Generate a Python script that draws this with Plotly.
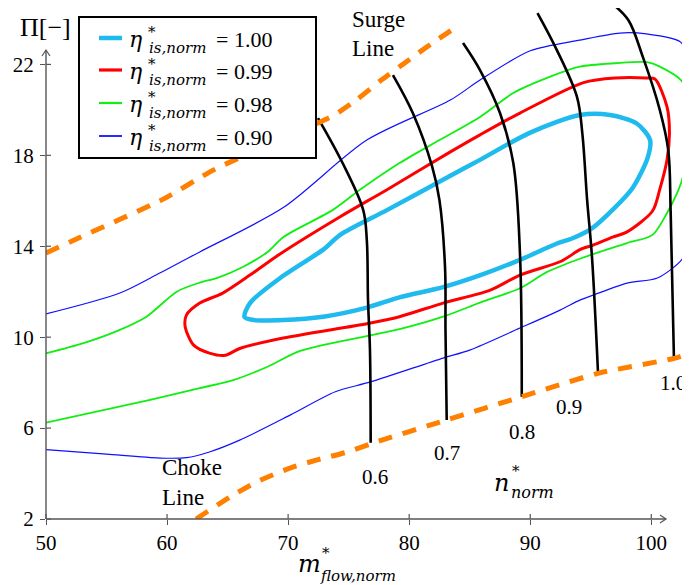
import plotly.graph_objects as go

# ---------------- data ----------------
x_ticks = [50, 60, 70, 80, 90, 100]
y_ticks = [2, 6, 10, 14, 18, 22]

# efficiency contours  (m*_flow,norm , Pi)
eta100_m = [66.4, 66.85, 69.6, 72.9, 74.3, 78.2, 83.4, 85.85, 90.0, 94.1, 96.6, 98.8, 99.9, 99.7, 98.5,
            96.8, 95.0, 93.5, 92.2, 89.15, 86.0, 82.8, 79.2, 76.5, 72.9, 69.6, 67.2, 66.4]
eta100_pi = [10.89, 11.5, 12.7, 13.85, 14.5, 15.6, 17.1, 17.8, 19.0, 19.77, 19.77, 19.4, 18.67, 17.9, 16.6,
             15.6, 14.75, 14.35, 14.12, 13.4, 12.75, 12.2, 11.75, 11.3, 10.9, 10.75, 10.75, 10.89]

eta099_m = [61.6, 62.7, 64.6, 66.85, 69.3, 74.3, 78.2, 83.4, 85.85, 89.15, 94.4, 97.0, 99.6, 100.3, 101.3,
            101.5, 101.3, 100.7, 100.1, 98.0, 96.8, 95.2, 94.1, 92.6, 89.15, 86.7, 82.8, 79.2, 76.6, 69.6,
            66.0, 64.8, 63.5, 62.2, 61.5, 61.6]
eta099_pi = [10.97, 11.5, 11.94, 12.73, 13.65, 15.3, 16.5, 18.15, 18.9, 19.86, 21.2, 21.4, 21.4, 21.36, 20.13,
             18.97, 17.8, 16.5, 15.55, 14.63, 14.4, 14.05, 13.85, 13.35, 12.73, 12.07, 11.5, 10.9, 10.6, 9.96,
             9.5, 9.2, 9.3, 9.65, 10.45, 10.97]

eta098_m = [50.0, 53.1, 56.0, 58.3, 60.8, 62.7, 64.1, 66.3, 68.3, 69.6, 73.7, 75.9, 79.2, 82.5, 85.85, 88.6,
            91.6, 94.1, 97.0, 99.65, 100.7, 102.6, 102.7, 102.6, 102.1, 101.3, 100.1, 98.0, 94.1, 91.4,
            89.15, 86.0, 82.8, 79.2, 71.0, 68.3, 65.4, 62.7, 58.6, 50.0]
eta098_pi = [9.29, 9.74, 10.3, 10.9, 12.0, 12.4, 12.6, 13.1, 13.75, 14.4, 15.6, 16.47, 17.66, 18.67, 19.69, 20.74,
             21.45, 21.9, 22.05, 22.1, 21.9, 21.2, 19.0, 17.05, 16.3, 15.46, 14.5, 14.14, 13.45, 12.87,
             12.15, 11.55, 10.9, 10.35, 9.4, 8.7, 8.1, 7.76, 7.24, 6.24]

eta090_m = [50.0, 56.1, 59.4, 62.7, 69.6, 76.5, 83.4, 85.85, 90.0, 94.1, 97.4, 99.6, 102.4, 103.0, 103.05,
            103.05, 102.9, 102.5, 100.5, 98.0, 95.2, 94.1, 92.46, 89.15, 85.0, 82.8, 76.8, 73.9, 70.2, 66.0,
            63.5, 61.6, 59.4, 55.0, 50.0]
eta090_pi = [11.02, 11.94, 12.82, 13.75, 15.7, 18.67, 20.43, 21.31, 22.6, 23.07, 23.38, 23.34, 22.99, 22.3, 20.0,
             14.5, 13.9, 13.4, 12.6, 12.38, 11.85, 11.63, 11.19, 10.4, 9.43, 9.08, 8.03, 7.6, 6.58, 5.47,
             4.95, 4.7, 4.68, 4.85, 5.05]

# speed lines
n06_m = [72.47, 74.5, 76.2, 76.5, 76.6, 76.76, 76.82]
n06_pi = [19.64, 17.66, 15.6, 14.27, 11.63, 9.43, 5.36]
n07_m = [78.66, 80.3, 81.9, 82.5, 82.96, 83.0, 83.1]
n07_pi = [21.53, 19.86, 17.5, 16.03, 13.1, 10.3, 6.36]
n08_m = [84.45, 85.85, 87.5, 88.6, 89.15, 89.3]
n08_pi = [22.94, 21.75, 19.86, 17.66, 13.7, 7.38]
n09_m = [90.6, 92.2, 93.86, 94.3, 94.7, 95.1, 95.6]
n09_pi = [24.26, 22.63, 20.57, 18.98, 16.03, 13.53, 8.41]
n10_m = [96.8, 98.1, 99.3, 100.7, 101.4, 101.6, 101.87]
n10_pi = [24.66, 23.95, 22.33, 20.0, 18.23, 15.5, 9.07]
speed_labels = ["0.6", "0.7", "0.8", "0.9", "1.0"]

# surge and choke lines
surge_m = [50.0, 52.6, 59.6, 64.0, 73.7, 75.7, 77.7, 79.8, 81.8, 83.6]
surge_pi = [13.7, 14.34, 16.05, 17.4, 19.74, 20.46, 21.31, 22.13, 22.9, 23.54]
choke_m = [62.4, 65.2, 67.4, 70.15, 72.4, 74.9, 77.0, 83.1, 89.3, 95.6, 101.9, 103.2]
choke_pi = [2.0, 2.97, 3.63, 4.24, 4.6, 4.95, 5.34, 6.36, 7.38, 8.41, 9.07, 9.3]

legend_values = ["1.00", "0.99", "0.98", "0.90"]

# ---------------- styling / layout ----------------
# the page puts the figure 8 px from the window's top-left corner (default body margin)
OFF = 8
PAGE_W, PAGE_H = 690, 585
PL, PR, PT, PB = 46, 690, 8, 519          # plot area in window pixels
W, H = PAGE_W - OFF, PAGE_H - OFF
X0, X1 = 50.0, 50.0 + (PR - PL) / 12.106
Y0, Y1 = 2.0, 2.0 + (PB - PT) / 22.73

SERIF = "Liberation Serif"
MATH = "DejaVu Serif"
AX_COL = "#555555"

CYAN, RED, GREEN, BLUE, ORANGE = "#1FBBEE", "#FF0000", "#11EE11", "#1010FF", "#FF8000"


def pxx(p):
    return (p - PL) / (PR - PL)


def pxy(p):
    return (PB - p) / (PB - PT)


fig = go.Figure()


def add_line(xs, ys, color, width, dash=None, smooth=0.8):
    fig.add_trace(go.Scatter(
        x=xs, y=ys, mode="lines",
        line=dict(color=color, width=width, shape="spline", smoothing=smooth,
                  dash=dash if dash else "solid"),
        hoverinfo="skip", showlegend=False))


add_line(eta090_m, eta090_pi, BLUE, 1.2)
add_line(eta098_m, eta098_pi, GREEN, 1.8)
add_line(eta099_m, eta099_pi, RED, 3.0)
add_line(eta100_m, eta100_pi, CYAN, 4.5)
for xs, ys in [(n06_m, n06_pi), (n07_m, n07_pi), (n08_m, n08_pi), (n09_m, n09_pi), (n10_m, n10_pi)]:
    add_line(xs, ys, "black", 2.6, smooth=1.0)
add_line(surge_m, surge_pi, ORANGE, 5, dash="14px,11px", smooth=0.6)
add_line(choke_m, choke_pi, ORANGE, 5, dash="14px,11px", smooth=0.6)

shapes = []
ann = []

# axis lines with open arrow heads
ax_x_tip, ax_y_tip = 666, 50
shapes.append(dict(type="line", xref="paper", yref="paper", x0=0, x1=pxx(ax_x_tip), y0=0, y1=0,
                   line=dict(color=AX_COL, width=1.4)))
shapes.append(dict(type="line", xref="paper", yref="paper", x0=0, x1=0, y0=0, y1=pxy(ax_y_tip),
                   line=dict(color=AX_COL, width=1.4)))
shapes.append(dict(type="path", xref="paper", yref="paper",
                   path=f"M {pxx(ax_x_tip-6)},{pxy(PB-4)} L {pxx(ax_x_tip)},{pxy(PB)} L {pxx(ax_x_tip-6)},{pxy(PB+4)}",
                   line=dict(color=AX_COL, width=1.2)))
shapes.append(dict(type="path", xref="paper", yref="paper",
                   path=f"M {pxx(PL-4)},{pxy(ax_y_tip+6)} L {pxx(PL)},{pxy(ax_y_tip)} L {pxx(PL+4)},{pxy(ax_y_tip+6)}",
                   line=dict(color=AX_COL, width=1.2)))
# inner halves of the ticks
for v in x_ticks:
    xp = (v - X0) / (X1 - X0)
    shapes.append(dict(type="line", xref="paper", yref="paper", x0=xp, x1=xp, y0=0, y1=5 / (PB - PT),
                       line=dict(color=AX_COL, width=1.2)))
for v in y_ticks:
    yp = (v - Y0) / (Y1 - Y0)
    shapes.append(dict(type="line", xref="paper", yref="paper", x0=0, x1=5 / (PR - PL), y0=yp, y1=yp,
                       line=dict(color=AX_COL, width=1.2)))

# legend box (drawn by hand)
shapes.append(dict(type="rect", xref="paper", yref="paper", x0=pxx(79), x1=pxx(316), y0=pxy(158), y1=pxy(17),
                   line=dict(color="black", width=2), fillcolor="white", layer="above"))
leg_rows = [38, 70, 103, 136]
leg_cols = [CYAN, RED, GREEN, BLUE]
leg_w = [4.5, 3.2, 2.2, 1.8]
for yr, c, w, val in zip(leg_rows, leg_cols, leg_w, legend_values):
    shapes.append(dict(type="line", xref="paper", yref="paper", x0=pxx(99), x1=pxx(122), y0=pxy(yr), y1=pxy(yr),
                       line=dict(color=c, width=w), layer="above"))
    ann.append(dict(text="<i>η</i>", x=pxx(127), y=pxy(yr + 1), xanchor="left", yanchor="middle",
                    font=dict(family=MATH, size=22, color="black")))
    ann.append(dict(text="*", x=pxx(152), y=pxy(yr - 6), xanchor="center", yanchor="middle",
                    font=dict(family=MATH, size=15, color="black")))
    ann.append(dict(text="<i>is,norm</i>", x=pxx(147), y=pxy(yr + 10), xanchor="left", yanchor="middle",
                    font=dict(family=MATH, size=15, color="black")))
    ann.append(dict(text="= " + val, x=pxx(214), y=pxy(yr + 1), xanchor="left", yanchor="middle",
                    font=dict(family=SERIF, size=22, color="black")))

# axis titles
ann.append(dict(text="Π[−]", x=pxx(45), y=pxy(27), xanchor="center", yanchor="middle",
                font=dict(family=SERIF, size=26, color="black")))
ann.append(dict(text="<i>m</i>", x=pxx(296), y=pxy(564), xanchor="left", yanchor="middle",
                font=dict(family=MATH, size=24, color="black")))
ann.append(dict(text="*", x=pxx(326), y=pxy(553), xanchor="center", yanchor="middle",
                font=dict(family=MATH, size=15, color="black")))
ann.append(dict(text="<i>flow,norm</i>", x=pxx(318), y=pxy(576), xanchor="left", yanchor="middle",
                font=dict(family=MATH, size=15, color="black")))

# n*_norm label
ann.append(dict(text="<i>n</i>", x=pxx(492), y=pxy(483), xanchor="left", yanchor="middle",
                font=dict(family=MATH, size=24, color="black")))
ann.append(dict(text="*", x=pxx(516), y=pxy(471), xanchor="center", yanchor="middle",
                font=dict(family=MATH, size=15, color="black")))
ann.append(dict(text="<i>norm</i>", x=pxx(509), y=pxy(492), xanchor="left", yanchor="middle",
                font=dict(family=MATH, size=16, color="black")))

# speed labels
for lab, (sx, sy) in zip(speed_labels, [(375, 477), (447, 453), (522, 432), (569, 407), (673, 383)]):
    ann.append(dict(text=lab, x=pxx(sx), y=pxy(sy), xanchor="center", yanchor="middle",
                    font=dict(family=SERIF, size=21, color="black")))

# surge / choke labels
for txt, (tx, ty) in [("Surge", (350, 19)), ("Line", (350, 48)), ("Choke", (160, 467)), ("Line", (160, 497))]:
    ann.append(dict(text=txt, x=pxx(tx), y=pxy(ty), xanchor="left", yanchor="middle",
                    font=dict(family=SERIF, size=23, color="black")))

for a in ann:
    a.update(xref="paper", yref="paper", showarrow=False)

fig.update_layout(
    width=W, height=H, autosize=False,
    margin=dict(l=PL - OFF, r=PAGE_W - PR, t=PT - OFF, b=PAGE_H - PB, pad=0, autoexpand=False),
    paper_bgcolor="white", plot_bgcolor="white",
    showlegend=False,
    shapes=shapes, annotations=ann,
    xaxis=dict(range=[X0, X1], showgrid=False, zeroline=False, showline=False, automargin=False,
               tickmode="array", tickvals=x_ticks, ticktext=[str(v) for v in x_ticks],
               ticks="outside", ticklen=5, tickwidth=1.2, tickcolor=AX_COL,
               tickfont=dict(family=SERIF, size=21, color="black")),
    yaxis=dict(range=[Y0, Y1], showgrid=False, zeroline=False, showline=False, automargin=False,
               tickmode="array", tickvals=y_ticks, ticktext=[str(v) for v in y_ticks],
               ticks="outside", ticklen=5, tickwidth=1.2, tickcolor=AX_COL, ticklabelstandoff=2,
               tickfont=dict(family=SERIF, size=21, color="black")),
)

fig.write_html("out.html")
